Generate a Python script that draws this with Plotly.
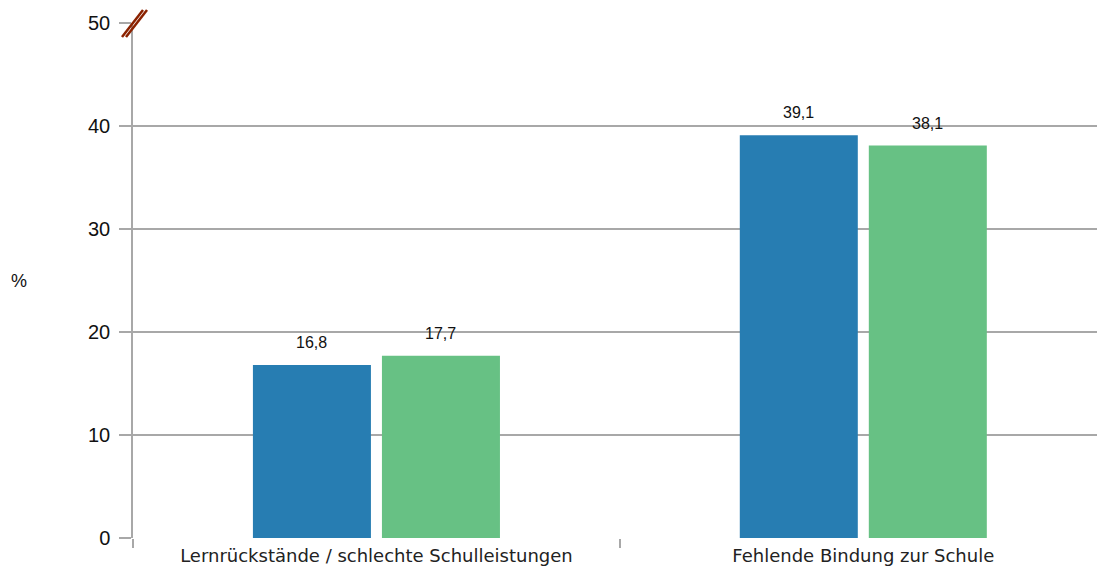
import plotly.graph_objects as go

categories = ["Lernrückstände / schlechte Schulleistungen", "Fehlende Bindung zur Schule"]
series_a = [16.8, 39.1]
series_b = [17.7, 38.1]
series_names = ["Reihe A", "Reihe B"]
colors = ["#277DB2", "#67C184"]
y_ticks = [0, 10, 20, 30, 40, 50]

def fmt(v):
    return f"{v:.1f}".replace(".", ",")

fig = go.Figure()
for name, vals, col in zip(series_names, [series_a, series_b], colors):
    fig.add_trace(go.Bar(x=categories, y=vals, name=name, marker_color=col,
                         marker_line_width=0, hoverinfo="skip"))

# value labels
bar_offset = 64.5
for vals, sh in zip([series_a, series_b], [-bar_offset, bar_offset]):
    for c, v in zip(categories, vals):
        fig.add_annotation(x=c, y=v, xref="x", yref="y", text=fmt(v), showarrow=False,
                           xshift=sh, yshift=12, yanchor="bottom",
                           font=dict(family="Liberation Sans, Arial", size=16, color="#111"))

grid = "#a8a8a8"
fig.update_layout(
    width=1098, height=569,
    margin=dict(l=133, r=1, t=23, b=31),
    paper_bgcolor="white", plot_bgcolor="white",
    barmode="group", bargap=0.47, bargroupgap=0.0853,
    showlegend=False,
    xaxis=dict(type="category", range=[-0.5, 1.48], tickson="boundaries",
               ticks="outside", ticklen=9, tickcolor=grid, tickwidth=1.5,
               showline=False, showgrid=False, zeroline=False, ticklabelstandoff=5,
               tickfont=dict(family="DejaVu Sans", size=18, color="#222")),
    yaxis=dict(range=[0, 50], tickvals=y_ticks, ticks="outside", ticklen=12,
               tickcolor=grid, tickwidth=1.5, ticklabelstandoff=5,
               showgrid=True, gridcolor=grid, gridwidth=1.5,
               showline=True, linecolor=grid, linewidth=1.5, zeroline=False,
               tickfont=dict(family="Liberation Sans, Arial", size=20, color="#111")),
)

fig.add_annotation(text="%", xref="paper", yref="paper", x=-0.118, y=0.5,
                   xanchor="center", yanchor="middle",
                   showarrow=False, font=dict(family="Liberation Sans, Arial", size=18, color="#111"))

# axis break marker
for dx in [0, 4]:
    fig.add_shape(type="line", xref="x domain", yref="y domain",
                  x0=(-11 + dx) / 964, y0=(-14) / 515 + 1,
                  x1=(10 + dx) / 964, y1=(13) / 515 + 1,
                  line=dict(color="#8b2200", width=2.5))

post = ("document.documentElement.style.margin='0';document.body.style.margin='0';"
        "document.body.style.padding='0';document.body.style.overflow='hidden';"
        "document.documentElement.style.overflow='hidden';")
fig.write_html("out.html", post_script=post, config={"displayModeBar": False})
